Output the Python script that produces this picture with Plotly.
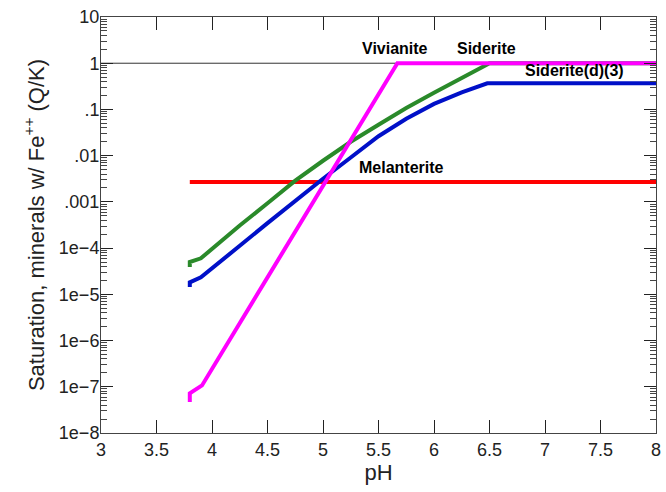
import plotly.graph_objects as go

# pH values and saturation values
ph_viv = [3.8, 3.8, 3.91, 5.67, 8.0]
viv = [4.7e-8, 7.2e-8, 1.07e-7, 1.0, 1.0]

ph_sid = [3.8, 3.8, 3.9, 4.0, 4.25, 4.5, 4.75, 5.0, 5.25, 5.5, 5.75, 6.0, 6.25, 6.45, 6.5, 8.0]
sid_log = [-4.41, -4.30, -4.22, -4.01, -3.51, -3.03, -2.54, -2.11, -1.70, -1.33, -0.97, -0.64, -0.33, -0.07, 0.0, 0.0]

ph_sidd = [3.8, 3.8, 3.9, 4.0, 4.25, 4.5, 4.75, 5.0, 5.25, 5.5, 5.75, 6.0, 6.25, 6.48, 8.0]
sidd_log = [-4.84, -4.74, -4.63, -4.44, -3.95, -3.46, -2.97, -2.50, -2.04, -1.58, -1.20, -0.88, -0.63, -0.435, -0.435]

ph_mel = [3.8, 8.0]
mel = [2.7e-3, 2.7e-3]

ref_ph = [3.0, 8.0]
ref_q = [1.0, 1.0]

y_tickvals = [1e-8, 1e-7, 1e-6, 1e-5, 1e-4, 1e-3, 1e-2, 1e-1, 1, 10]
y_ticktext = ["1e\u22128", "1e\u22127", "1e\u22126", "1e\u22125", "1e\u22124", ".001", ".01", ".1", "1", "10"]
x_tickvals = [3, 3.5, 4, 4.5, 5, 5.5, 6, 6.5, 7, 7.5, 8]
x_ticktext = ["3", "3.5", "4", "4.5", "5", "5.5", "6", "6.5", "7", "7.5", "8"]

labels = ["Vivianite", "Siderite", "Siderite(d)(3)", "Melanterite"]
label_x = [5.65, 6.47, 7.27, 5.71]
label_logy = [0.31, 0.31, -0.147, -2.25]

minor_vals = [m * 10 ** k for k in range(-8, 1) for m in range(2, 10)]

fig = go.Figure()
fig.add_trace(go.Scatter(x=ref_ph, y=ref_q, mode="lines", line=dict(color="#333333", width=1)))
fig.add_trace(go.Scatter(x=ph_mel, y=mel, mode="lines", line=dict(color="#FF0000", width=4)))
fig.add_trace(go.Scatter(x=ph_sidd, y=[10 ** v for v in sidd_log], mode="lines", line=dict(color="#0010C8", width=4)))
fig.add_trace(go.Scatter(x=ph_sid, y=[10 ** v for v in sid_log], mode="lines", line=dict(color="#2A8A2A", width=4)))
fig.add_trace(go.Scatter(x=ph_viv, y=viv, mode="lines", line=dict(color="#FF00FF", width=4)))

for t, xx, yy in zip(labels, label_x, label_logy):
    fig.add_annotation(x=xx, y=yy, text="<b>" + t + "</b>", showarrow=False,
                       font=dict(family="Liberation Sans Narrow, Arial Narrow, Arial", size=16, color="black"))

axis_font = dict(family="Liberation Sans, Arial", size=18, color="#222222")
title_font = dict(family="Liberation Sans, Arial", size=22, color="#222222")
fig.update_layout(
    width=666, height=492,
    margin=dict(l=101, r=10, t=17, b=59),
    paper_bgcolor="white", plot_bgcolor="white",
    showlegend=False,
    font=axis_font,
    xaxis=dict(range=[3, 8], tickmode="array", tickvals=x_tickvals, ticktext=x_ticktext,
               ticks="inside", ticklen=13, tickwidth=1, tickcolor="#222222",
               showline=True, linecolor="#444444", linewidth=1, mirror="ticks",
               showgrid=False, zeroline=False, tickfont=axis_font, automargin=False,
               title=dict(text="pH", font=title_font, standoff=4)),
    yaxis=dict(type="log", range=[-8, 1], tickmode="array", tickvals=y_tickvals, ticktext=y_ticktext,
               ticks="inside", ticklen=12, tickwidth=1, tickcolor="#222222",
               showline=True, linecolor="#444444", linewidth=1, mirror="ticks",
               showgrid=False, zeroline=False, tickfont=axis_font, automargin=False,
               ticklabelstandoff=-3,
               minor=dict(tickmode="array", tickvals=minor_vals, ticks="inside", ticklen=6,
                          tickcolor="#444444", showgrid=False),
               title=dict(text="Saturation, minerals w/ Fe<sup>++</sup> (Q/K)",
                          font=title_font, standoff=8)),
)

fig.write_html("out.html")
